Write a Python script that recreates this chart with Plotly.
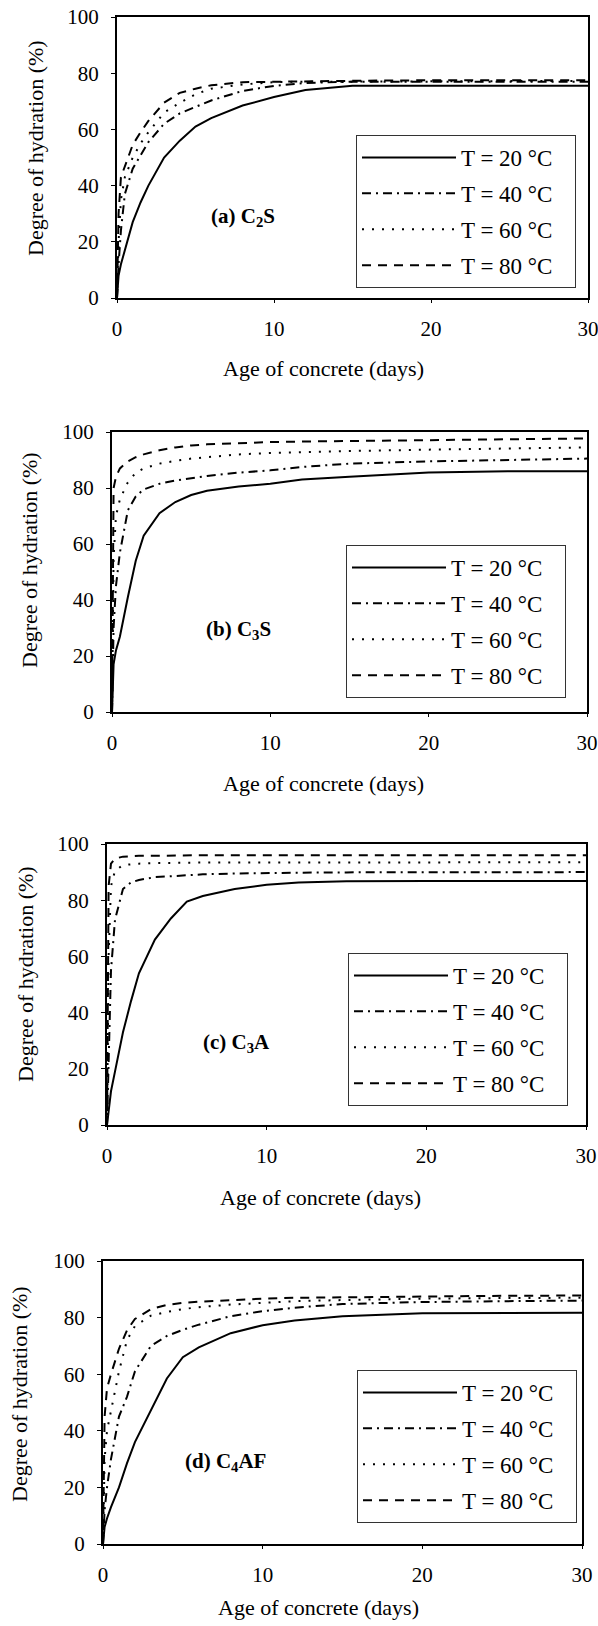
import plotly.graph_objects as go

# ---------------- data ----------------
DAYS = [0, 0.1, 0.25, 0.5, 1, 1.5, 2, 3, 4, 5, 6, 8, 10, 12, 15, 20, 25, 30]
TEMPS = ["T = 20 °C", "T = 40 °C", "T = 60 °C", "T = 80 °C"]

C2S_20 = [0, 8, 12, 17, 27, 34, 40, 50, 56, 61, 64, 68.5, 71.5, 74, 75.5, 75.5, 75.5, 75.5]
C2S_40 = [0, 12, 24, 37, 46, 51, 55.5, 62, 65.7, 68, 70.3, 73.7, 75.5, 76.5, 77, 77, 77, 77]
C2S_60 = [0, 20, 35, 43, 50, 55, 59, 66, 69.5, 72.5, 74.5, 76, 76.8, 77, 77, 77.2, 77.2, 77.2]
C2S_80 = [0, 30, 43, 47, 54.5, 59, 63, 69.5, 73, 74.5, 75.7, 76.8, 77, 77.2, 77.3, 77.5, 77.5, 77.5]

C3S_20 = [0, 17, 22, 27, 41, 54, 63, 71, 75, 77.5, 79, 80.5, 81.5, 83, 84, 85.5, 86, 86]
C3S_40 = [0, 30, 45, 57, 72, 77, 79.5, 81.5, 82.7, 83.5, 84.3, 85.5, 86.3, 87.5, 88.7, 89.5, 90, 90.5]
C3S_60 = [0, 55, 70, 76, 82, 85.5, 87, 88.7, 89.7, 90.5, 91, 92, 92.5, 92.8, 93.2, 93.7, 94.1, 94.5]
C3S_80 = [0, 80, 84, 87, 89.5, 91, 92, 93.5, 94.5, 95.2, 95.6, 96.1, 96.4, 96.6, 96.8, 97.2, 97.5, 97.7]

C3A_20 = [0, 5, 12, 19, 33, 44, 54, 66, 73.5, 79.5, 81.5, 84, 85.5, 86.3, 86.7, 86.8, 86.8, 86.8]
C3A_40 = [0, 25, 55, 73, 84, 86.3, 87.2, 88.2, 88.6, 89, 89.2, 89.5, 89.7, 89.8, 89.9, 90, 90, 90]
C3A_60 = [0, 60, 85, 90.5, 92.5, 92.8, 93, 93.2, 93.3, 93.3, 93.4, 93.4, 93.4, 93.5, 93.5, 93.5, 93.5, 93.5]
C3A_80 = [0, 85, 93, 94.8, 95.5, 95.7, 95.8, 95.8, 95.9, 95.9, 96, 96, 96, 96, 96, 96, 96, 96]

C4AF_20 = [0, 6, 9, 13, 20, 28.5, 36, 47.5, 58.5, 66, 69.5, 74.5, 77.3, 79, 80.5, 81.5, 81.7, 81.7]
C4AF_40 = [0, 12, 20, 30, 45, 52, 61, 70, 73.5, 75.7, 77.5, 80.5, 82.3, 83.5, 84.8, 85.5, 85.8, 86]
C4AF_60 = [0, 30, 40, 47, 61, 72, 77, 80.7, 82, 83, 83.7, 84.6, 85.3, 85.8, 86.2, 86.7, 86.9, 87]
C4AF_80 = [0, 45, 55, 60, 69, 75.5, 79.5, 83, 84.5, 85.2, 85.6, 86.2, 86.7, 87, 87.2, 87.5, 87.7, 87.8]

PANEL_LABELS = ["(a) C<sub>2</sub>S", "(b) C<sub>3</sub>S", "(c) C<sub>3</sub>A", "(d) C<sub>4</sub>AF"]
X_TICKS = [0, 10, 20, 30]
Y_TICKS = [0, 20, 40, 60, 80, 100]
X_TITLE = "Age of concrete (days)"
Y_TITLE = "Degree of hydration (%)"

PANELS = [
    [C2S_20, C2S_40, C2S_60, C2S_80],
    [C3S_20, C3S_40, C3S_60, C3S_80],
    [C3A_20, C3A_40, C3A_60, C3A_80],
    [C4AF_20, C4AF_40, C4AF_60, C4AF_80],
]

# ---------------- layout geometry (pixels) ----------------
W, H = 598, 1626
# left, right, top, bottom of each plot area
BOXES = [(117, 588, 17, 298), (112, 587, 432, 712), (107, 586, 844, 1125), (103, 582, 1261, 1544)]
LEGENDS = [(356, 135), (346, 545), (348, 953), (357, 1370)]
LABEL_POS = [(243, 217), (238, 630), (236, 1043), (225, 1462)]
XTITLE_POS = [(323, 368), (323, 783), (320, 1197), (318, 1607)]
YTITLE_POS = [(36, 148), (29, 560), (25, 974), (19, 1394)]

DASHES = ["solid", "9px,5px,2px,5px", "2px,8px", "9px,7px"]
FONT = "Liberation Serif, serif"
PAD = "\u00a0\u00a0\u00a0"

fig = go.Figure()

layout = dict(
    width=W, height=H,
    margin=dict(l=0, r=0, t=0, b=0, autoexpand=False),
    paper_bgcolor="white", plot_bgcolor="white",
    font=dict(family=FONT, size=21, color="black"),
    showlegend=True,
    annotations=[],
)

for i, (series, box) in enumerate(zip(PANELS, BOXES)):
    n = "" if i == 0 else str(i + 1)
    xa, ya = "x" + n, "y" + n
    leg = "legend" + n
    for name, vals, dash in zip(TEMPS, series, DASHES):
        fig.add_trace(go.Scatter(
            x=DAYS, y=vals, mode="lines", name=name + PAD,
            line=dict(color="black", width=2, dash=dash),
            xaxis=xa, yaxis=ya, legend=leg, legendgroup=f"{i}-{name}",
            showlegend=True, hoverinfo="skip",
        ))
    l, r, t, b = box
    layout["xaxis" + n] = dict(
        domain=[l / W, r / W], anchor=ya, range=[0, 30], tickvals=X_TICKS,
        showline=True, mirror=True, linecolor="black", linewidth=2,
        ticks="outside", ticklen=3, tickcolor="black", showgrid=False, zeroline=False,
        ticklabelstandoff=8, tickfont=dict(size=21), automargin=False,
        ticklabeloverflow="allow",
    )
    layout["yaxis" + n] = dict(
        domain=[1 - b / H, 1 - t / H], anchor=xa, range=[0, 100], tickvals=Y_TICKS,
        showline=True, mirror=True, linecolor="black", linewidth=2,
        ticks="outside", ticklen=4, tickcolor="black", showgrid=False, zeroline=False,
        ticklabelstandoff=8, tickfont=dict(size=21), automargin=False,
        ticklabeloverflow="allow",
    )
    lx, ly = LEGENDS[i]
    layout[leg] = dict(
        x=lx / W, y=1 - ly / H, xref="paper", yref="paper",
        xanchor="left", yanchor="top",
        bgcolor="white", bordercolor="#333", borderwidth=1,
        font=dict(family=FONT, size=23, color="black"),
        tracegroupgap=3, itemwidth=94,
    )
    px, py = LABEL_POS[i]
    layout["annotations"].append(dict(
        x=px / W, y=1 - py / H, xref="paper", yref="paper", showarrow=False,
        text="<b>" + PANEL_LABELS[i] + "</b>", font=dict(size=21, family=FONT),
        xanchor="center", yanchor="middle",
    ))
    tx, ty = XTITLE_POS[i]
    layout["annotations"].append(dict(
        x=tx / W, y=1 - ty / H, xref="paper", yref="paper", showarrow=False,
        text=X_TITLE, font=dict(size=22, family=FONT),
        xanchor="center", yanchor="middle",
    ))
    yx, yy = YTITLE_POS[i]
    layout["annotations"].append(dict(
        x=yx / W, y=1 - yy / H, xref="paper", yref="paper", showarrow=False,
        text=Y_TITLE, font=dict(size=22, family=FONT), textangle=-90,
        xanchor="center", yanchor="middle",
    ))

fig.update_layout(**layout)
fig.write_html(
    "out.html",
    config={"displayModeBar": False, "staticPlot": True},
    post_script="document.body.style.margin='0';",
)
